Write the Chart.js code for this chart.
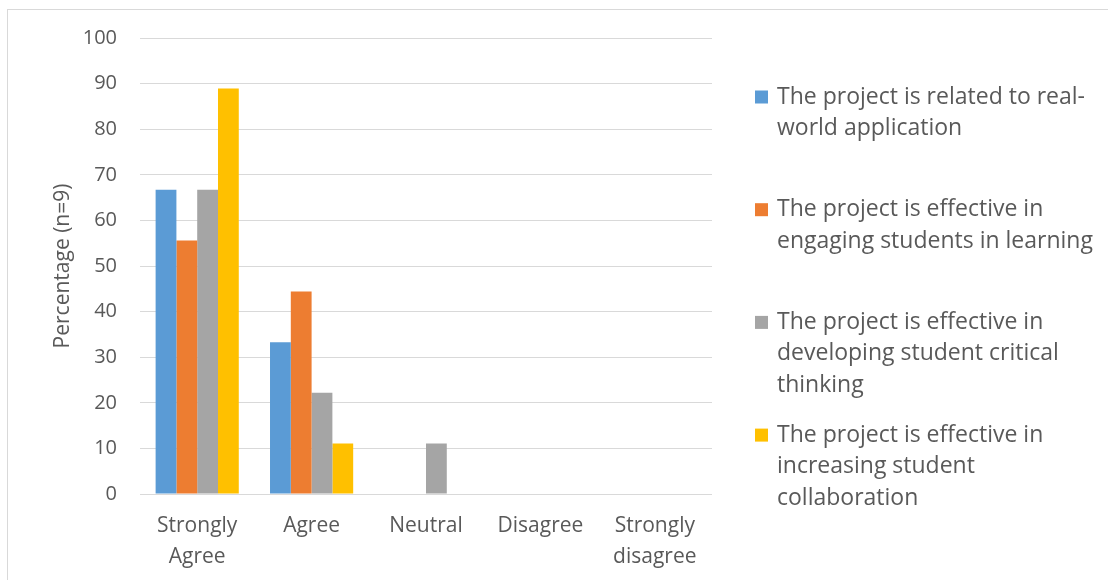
<!DOCTYPE html>
<html>
<head>
<meta charset="utf-8">
<script src="https://cdn.jsdelivr.net/npm/chart.js@4/dist/chart.umd.min.js"></script>
<style>
  html, body { margin: 0; padding: 0; background: #fff; }
  #wrap { width: 1108px; height: 580px; position: relative; }
</style>
</head>
<body>
<div id="wrap"><canvas id="myChart" width="1108" height="580"></canvas></div>
<script>
// survey responses, n = 9, shown as percentages
var categories = [['Strongly', 'Agree'], 'Agree', 'Neutral', 'Disagree', ['Strongly', 'disagree']];
var realWorld = [66.7, 33.3, 0, 0, 0];
var engaging = [55.6, 44.4, 0, 0, 0];
var criticalThinking = [66.7, 22.2, 11.1, 0, 0];
var collaboration = [88.9, 11.1, 0, 0, 0];
var yTicks = [0, 10, 20, 30, 40, 50, 60, 70, 80, 90, 100];

// legend text, already broken into lines
var seriesNames = [
  ['The project is related to real-', 'world application'],
  ['The project is effective in', 'engaging students in learning'],
  ['The project is effective in', 'developing student critical', 'thinking'],
  ['The project is effective in', 'increasing student', 'collaboration']
];
var colors = ['#5B9BD5', '#ED7D31', '#A5A5A5', '#FFC000'];

var FONT = "'Open Sans', sans-serif";
var TEXT = '#595959';

// outer frame + wrapped legend on the right
var frameAndLegend = {
  id: 'frameAndLegend',
  beforeDraw: function(chart) {
    var c = chart.ctx;
    c.save();
    c.strokeStyle = '#D9D9D9';
    c.lineWidth = 1;
    c.strokeRect(7.5, 9.5, 1300, 700);
    c.restore();
  },
  afterDraw: function(chart) {
    var c = chart.ctx;
    c.save();
    c.font = '23px ' + FONT;
    c.textBaseline = 'middle';
    chart.data.datasets.forEach(function(ds, i) {
      var y = 97 + i * 112.7;
      c.fillStyle = ds.backgroundColor;
      c.fillRect(755, y - 6.5, 13, 13);
      c.fillStyle = TEXT;
      seriesNames[i].forEach(function(line, j) {
        c.fillText(line, 777, y + j * 31.5);
      });
    });
    c.restore();
  }
};

var ctx = document.getElementById('myChart').getContext('2d');

var chart = new Chart(ctx, {
  type: 'bar',
  data: {
    labels: categories,
    datasets: [
      { label: seriesNames[0].join(' '), data: realWorld, backgroundColor: colors[0] },
      { label: seriesNames[1].join(' '), data: engaging, backgroundColor: colors[1] },
      { label: seriesNames[2].join(' '), data: criticalThinking, backgroundColor: colors[2] },
      { label: seriesNames[3].join(' '), data: collaboration, backgroundColor: colors[3] }
    ]
  },
  options: {
    responsive: false,
    animation: false,
    layout: { padding: { top: 38, right: 396, left: 50, bottom: 0 } },
    datasets: {
      bar: { barPercentage: 1, categoryPercentage: 0.727 }
    },
    plugins: {
      legend: { display: false },
      tooltip: { enabled: false }
    },
    scales: {
      x: {
        grid: { display: false },
        border: { display: false },
        ticks: {
          color: TEXT,
          font: { family: FONT, size: 21, lineHeight: 1.476 },
          padding: 9,
          maxRotation: 0,
          autoSkip: false
        },
        afterFit: function(scale) { scale.height = 86; }
      },
      y: {
        min: 0,
        max: 100,
        afterBuildTicks: function(scale) {
          scale.ticks = yTicks.map(function(v) { return { value: v }; });
        },
        grid: { color: '#D9D9D9', lineWidth: 1, drawTicks: false },
        border: { display: false },
        ticks: {
          color: TEXT,
          font: { family: FONT, size: 20 },
          padding: 23
        },
        title: {
          display: true,
          text: 'Percentage (n=9)',
          color: TEXT,
          font: { family: FONT, size: 21 },
          padding: { top: 0, bottom: 0 }
        },
        afterFit: function(scale) { scale.width = 90; }
      }
    }
  },
  plugins: [frameAndLegend]
});
</script>
</body>
</html>
